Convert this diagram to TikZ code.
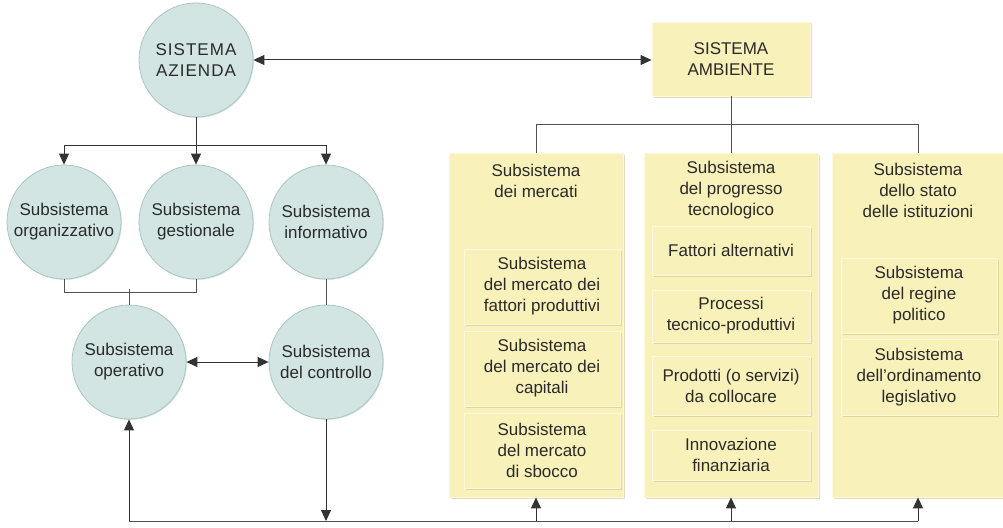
\documentclass[tikz,border=0pt]{standalone}
\usepackage{fontspec}
\setmainfont{Liberation Sans}
\usepackage{xcolor}
\usepackage{tikz}
\usetikzlibrary{arrows.meta,positioning,calc,shadows}
\definecolor{txt}{HTML}{2a2a2a}
\definecolor{circfill}{HTML}{D2E5E3}
\definecolor{circrim}{HTML}{A9C5C3}
\definecolor{boxfill}{HTML}{F9F1BA}
\definecolor{boxrim}{HTML}{FCF8DE}
\definecolor{boxshade}{HTML}{C9BA7C}
\definecolor{wire}{HTML}{333333}

\begin{document}
\begin{tikzpicture}[
    x=1pt, y=-1pt,
    every node/.style={text=txt, font=\fontsize{17pt}{21pt}\selectfont, align=center},
    subcircle/.style={
        circle, fill=circfill, draw=circrim, line width=0.8pt,
        minimum size=114pt, inner sep=0pt,
        drop shadow={shadow xshift=1pt, shadow yshift=-1pt, fill=circrim!80}
    },
    envblock/.style={
        rectangle, fill=boxfill, draw=boxrim, line width=0.8pt,
        inner sep=0pt,
        drop shadow={shadow xshift=1.5pt, shadow yshift=-1.5pt, fill=boxshade}
    },
    innerblock/.style={
        envblock, minimum width=156pt
    },
    title/.style={inner sep=0pt},
    arrow/.style={-{Triangle[length=11pt,width=10pt]}, line width=1pt, color=wire},
    dblarrow/.style={{Triangle[length=11pt,width=10pt]}-{Triangle[length=11pt,width=10pt]}, line width=1pt, color=wire},
    link/.style={line width=1pt, color=wire!85},
]
\useasboundingbox (0,0) rectangle (1003,527);

% Sistema azienda
\node[subcircle] (azienda) at (196,60) {\addfontfeature{LetterSpace=6}SISTEMA\\\addfontfeature{LetterSpace=6}AZIENDA};

\node[subcircle] (org)  at (64,222)  {Subsistema\\organizzativo};
\node[subcircle] (gest) at (196,222) {Subsistema\\gestionale};
\node[subcircle] (info) at (326,222) {Subsistema\\informativo};

\node[subcircle] (oper)  at (129,362) {Subsistema\\operativo};
\node[subcircle] (contr) at (326,362) {Subsistema\\del controllo};

% Sistema ambiente
\node[envblock, minimum width=158pt, minimum height=74pt] (ambiente) at (731,59) {SISTEMA\\AMBIENTE};

\node[envblock, minimum width=174pt, minimum height=344pt] (mercati)   at (536,325) {};
\node[envblock, minimum width=174pt, minimum height=344pt] (progresso) at (731,325) {};
\node[envblock, minimum width=172pt, minimum height=344pt] (stato)     at (918,325) {};

\node[title] (mercatiT)   at (536,181) {Subsistema\\dei mercati};
\node[title] (progressoT) at (731,190) {Subsistema\\del progresso\\tecnologico};
\node[title] (statoT)     at (918,190) {Subsistema\\dello stato\\delle istituzioni};

% mercati
\node[innerblock, minimum height=75pt] (fattori)  at (542,286.5) {Subsistema\\del mercato dei\\fattori produttivi};
\node[innerblock, minimum height=75pt] (capitali) at (542,368.5) {Subsistema\\del mercato dei\\capitali};
\node[innerblock, minimum height=75pt] (sbocco)   at (542,450.5) {Subsistema\\del mercato\\di sbocco};

% progresso tecnologico
\node[innerblock, minimum width=158pt, minimum height=49pt] (alternativi) at (731,250.5) {Fattori alternativi};
\node[innerblock, minimum width=158pt, minimum height=52pt] (processi)    at (731,316)   {Processi\\tecnico-produttivi};
\node[innerblock, minimum width=158pt, minimum height=59pt] (prodotti)    at (731,385.5) {Prodotti (o servizi)\\da collocare};
\node[innerblock, minimum width=158pt, minimum height=50pt] (innovazione) at (731,455)   {Innovazione\\finanziaria};

% stato e istituzioni
\node[innerblock, minimum height=75pt] (regime)      at (919,295.5) {Subsistema\\del regine\\politico};
\node[innerblock, minimum height=76pt] (ordinamento) at (919,377)   {Subsistema\\dell’ordinamento\\legislativo};

% Collegamenti
\draw[dblarrow] (azienda.east) -- (azienda.east -| ambiente.west);

\draw[arrow] (azienda.south) -- ++(0,28) -| (org.north);
\draw[arrow] (azienda.south) -- (gest.north);
\draw[arrow] (azienda.south) -- ++(0,28) -| (info.north);

\draw[link] (org.south) -- ++(0,13) -| (gest.south);
\draw[link] (oper.north) -- ++(0,-16);
\draw[link] (info.south) -- (contr.north);
\draw[dblarrow] (oper.east) -- (contr.west);

\draw[link] (ambiente.south) -- ++(0,28) -| (mercati.north);
\draw[link] (ambiente.south) -- (progresso.north);
\draw[link] (ambiente.south) -- ++(0,28) -| (stato.north);

% linea di ritorno
\coordinate (busL) at (129,521);
\coordinate (busR) at (918,521);
\draw[link] (busL) -- (busR);
\draw[arrow] (busL) -- (oper.south);
\draw[arrow] (contr.south) -- (contr.south |- busL);
\draw[arrow] (mercati.south |- busL) -- (mercati.south);
\draw[arrow] (progresso.south |- busL) -- (progresso.south);
\draw[arrow] (busR) -- (stato.south);

\end{tikzpicture}
\end{document}
